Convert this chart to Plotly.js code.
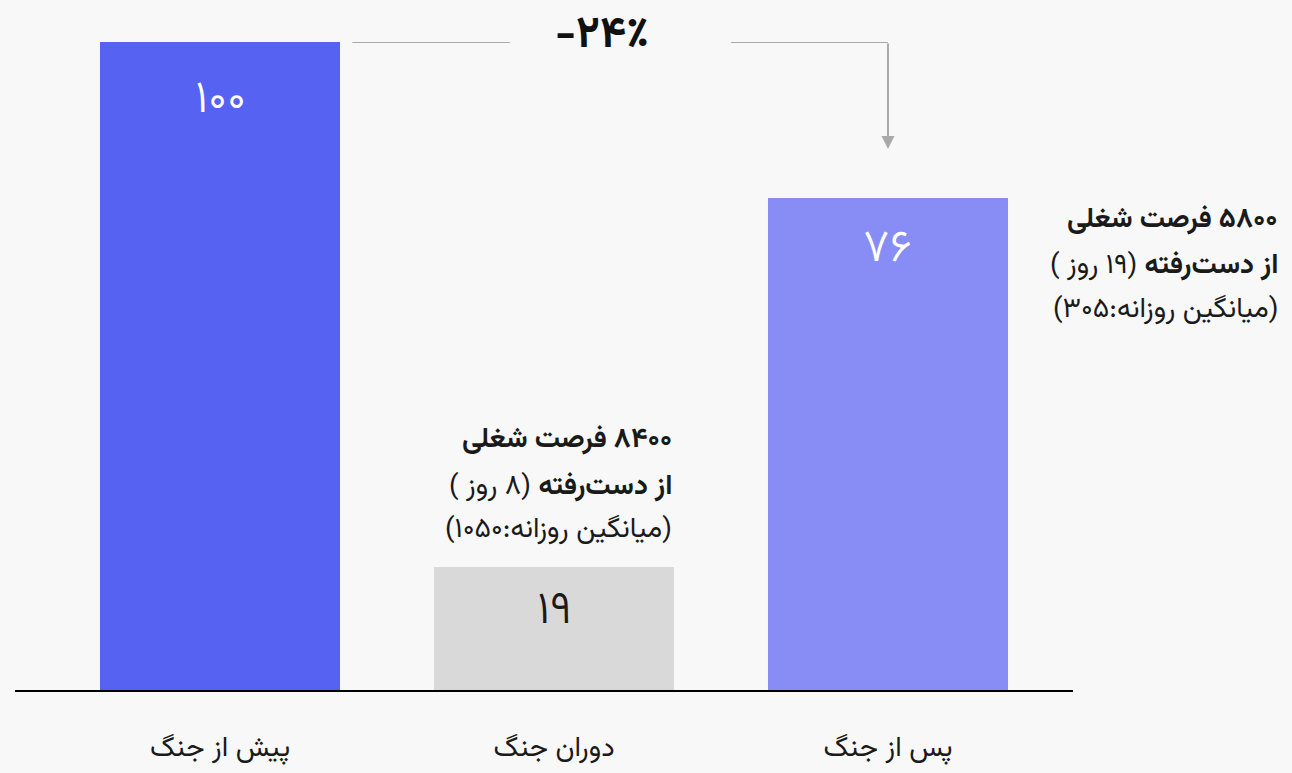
<!DOCTYPE html>
<html>
<head>
<meta charset="utf-8">
<script src="https://cdn.plot.ly/plotly-3.0.1.min.js"></script>
<style>
html,body{margin:0;padding:0;background:#f8f8f8;}
#chart{width:1292px;height:773px;}
</style>
</head>
<body>
<div id="chart"></div>
<script>
// ---- data ----
const categories = ["پیش از جنگ", "دوران جنگ", "پس از جنگ"];
const values = [100, 19, 76];
const valueLabels = ["۱۰۰", "۱۹", "۷۶"];
const changeLabel = "-۲۴٪";
const midNoteLines = ["<b>\u202B۸۴۰۰ فرصت شغلی\u202C</b>", "<b>از دست‌رفته</b> (۸ روز )", "(میانگین روزانه:۱۰۵۰)"];
const rightNoteLines = ["<b>\u202B۵۸۰۰ فرصت شغلی\u202C</b>", "<b>از دست‌رفته</b> (۱۹ روز )", "(میانگین روزانه:۳۰۵)"];

// ---- styles ----
const FONT = "Vazirmatn, 'Noto Sans Arabic', 'DejaVu Sans', 'Noto Sans', sans-serif";
const barColors = ["#5562f2", "#878df5", "#d9d9d9"];
const colorByIndex = [barColors[0], barColors[2], barColors[1]];
const labelColors = ["#ffffff", "#1a1a1a", "#ffffff"];
const labelShift = [-59, -45, -52];
const xs = categories.map((c, i) => i);

const trace = {
  type: "bar",
  x: xs,
  y: values,
  width: 0.72,
  marker: {color: colorByIndex},
  hoverinfo: "skip"
};

const annotations = [];
values.forEach((v, i) => {
  annotations.push({
    x: xs[i], y: v, xref: "x", yref: "y",
    text: valueLabels[i], showarrow: false,
    yanchor: "middle", yshift: labelShift[i],
    font: {family: FONT, size: 46, weight: 300, color: labelColors[i]}
  });
});

// change label
annotations.push({
  x: 1.144, y: values[0], xref: "x", yref: "y",
  text: "<b>" + changeLabel + "</b>", showarrow: false,
  yanchor: "middle", yshift: 6,
  font: {family: FONT, size: 44, color: "#111"}
});
// vertical arrow down to bar 3
annotations.push({
  x: xs[2], y: values[2] + 7.5, xref: "x", yref: "y",
  ax: xs[2], ay: values[0], axref: "x", ayref: "y",
  text: "", showarrow: true, arrowhead: 2, arrowsize: 1.3,
  arrowwidth: 2, arrowcolor: "#aaaaaa", standoff: 0
});

// notes
const NOTE_SIZE = 28;
const midShifts = [127, 80, 37];
midNoteLines.forEach((t, k) => {
  annotations.push({
    x: xs[1] + 0.36, y: values[1], xref: "x", yref: "y",
    text: t, showarrow: false, xanchor: "right", yanchor: "middle",
    yshift: midShifts[k], align: "right",
    font: {family: FONT, size: NOTE_SIZE, color: "#1a1a1a"}
  });
});
const rightShifts = [-22, -68, -112];
rightNoteLines.forEach((t, k) => {
  annotations.push({
    x: 1.196, y: values[2], xref: "paper", yref: "y",
    text: t, showarrow: false, xanchor: "right", yanchor: "middle",
    yshift: rightShifts[k], align: "right",
    font: {family: FONT, size: NOTE_SIZE, color: "#1a1a1a"}
  });
});

const layout = {
  width: 1292, height: 773,
  paper_bgcolor: "#f8f8f8", plot_bgcolor: "#f8f8f8",
  margin: {l: 15, r: 219, t: 42, b: 83},
  showlegend: false,
  bargap: 0,
  xaxis: {
    range: [-0.614, 2.554],
    tickvals: xs, ticktext: categories,
    showgrid: false, zeroline: false,
    showline: true, linecolor: "#000", linewidth: 2,
    ticks: "", ticklabelstandoff: 30,
    tickfont: {family: FONT, size: 28, color: "#1a1a1a"},
    fixedrange: true
  },
  yaxis: {
    range: [0, 100], visible: false, fixedrange: true
  },
  shapes: [
    {type: "line", xref: "x", yref: "y", x0: 0.396, x1: 0.868, y0: values[0], y1: values[0],
     line: {color: "#aaaaaa", width: 2}},
    {type: "line", xref: "x", yref: "y", x0: 1.53, x1: xs[2], y0: values[0], y1: values[0],
     line: {color: "#aaaaaa", width: 2}}
  ],
  annotations: annotations
};

Plotly.newPlot("chart", [trace], layout, {displayModeBar: false, staticPlot: true});
</script>
</body>
</html>
